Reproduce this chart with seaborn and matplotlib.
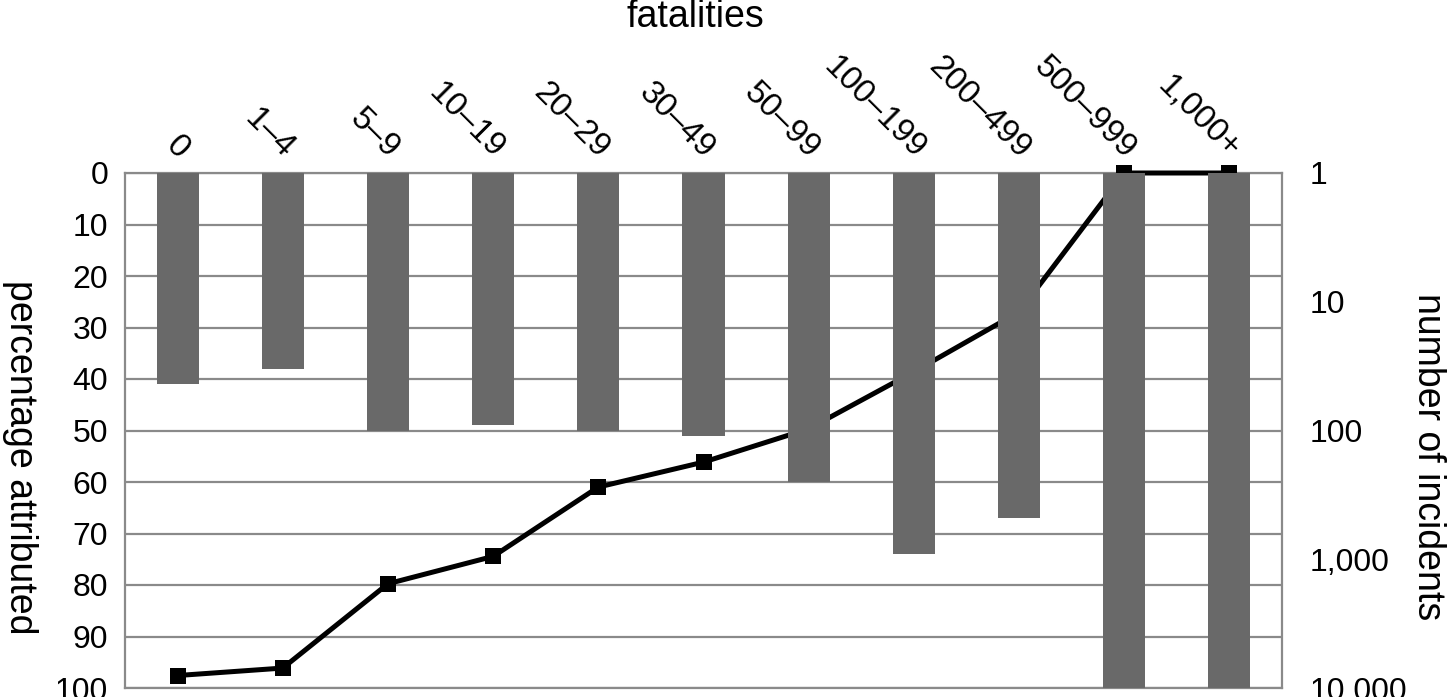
import matplotlib
matplotlib.use("Agg")
import matplotlib.pyplot as plt
import seaborn as sns
import numpy as np
from matplotlib.transforms import ScaledTranslation
from matplotlib.ticker import FixedLocator, NullLocator

# ---- data ----
categories = ["0", "1–4", "5–9", "10–19", "20–29", "30–49", "50–99",
              "100–199", "200–499", "500–999", "1,000+"]
pct_attributed = [41, 38, 50, 49, 50, 51, 60, 74, 67, 100, 100]
num_incidents = [8000, 7000, 1550, 950, 275, 176, 97, 35, 12, 1, 1]
pct_ticks = [0, 10, 20, 30, 40, 50, 60, 70, 80, 90, 100]
inc_ticks = [1, 10, 100, 1000, 10000]
inc_tick_labels = ["1", "10", "100", "1,000", "10,000"]

# ---- style ----
sns.set_theme(style="white")
plt.rcParams["font.family"] = ["Liberation Sans", "DejaVu Sans"]
BAR = "#696969"
GRID = "#8a8a8a"
FS = 23        # tick labels
FS_CAT = 24    # category labels
FS_TITLE = 27  # axis titles

W, H = 1447, 697
fig = plt.figure(figsize=(W / 100, H / 100), dpi=100)
L, R, T, B = 125, 1282, 173, 688
ax = fig.add_axes([L / W, 1 - B / H, (R - L) / W, (B - T) / H])
ax_line = ax.twinx()
ax_bar = ax.twinx()
ax.set_zorder(1)
ax_line.set_zorder(2)
ax_bar.set_zorder(3)
ax_line.patch.set_visible(False)
ax_bar.patch.set_visible(False)

n = len(categories)

# line (number of incidents, log scale, right axis)
sns.lineplot(x=np.arange(n), y=num_incidents, ax=ax_line, color="black",
             linewidth=3.6, marker="s", markersize=11.5, markeredgewidth=0,
             clip_on=False)
ax_line.set_yscale("log")
ax_line.set_ylim(10000, 1)
ax_line.yaxis.set_major_locator(FixedLocator(inc_ticks))
ax_line.yaxis.set_minor_locator(NullLocator())
ax_line.set_yticklabels(inc_tick_labels)
ax_line.tick_params(axis="y", which="both", length=0, pad=20, labelsize=FS,
                    labelcolor="black")
ax_line.set_ylabel("number of incidents", rotation=270, fontsize=FS_TITLE,
                   va="center", ha="center", color="black")
ax_line.yaxis.set_label_coords((1428 - L) / (R - L), (B - 457) / (B - T))
ax_line.set_xlabel("")

# bars (percentage attributed)
sns.barplot(x=categories, y=pct_attributed, ax=ax_bar, color=BAR,
            width=0.4, saturation=1, linewidth=0, edgecolor=BAR)
ax_bar.set_ylim(100, 0)
ax_bar.set_yticks([])
ax_bar.set_ylabel("")
ax_bar.set_xlabel("")

for a in (ax_line, ax_bar):
    for s in a.spines.values():
        s.set_visible(False)

# base axes: grid, left ticks, top category labels
ax.set_ylim(100, 0)
ax.set_xlim(-0.5, n - 0.5)
ax.set_yticks(pct_ticks)
ax.set_yticklabels([str(v) for v in pct_ticks])
ax.grid(axis="y", color=GRID, linewidth=1.6)
ax.grid(axis="x", visible=False)
ax.set_axisbelow(True)
for s in ax.spines.values():
    s.set_visible(True)
    s.set_color(GRID)
    s.set_linewidth(1.6)
ax.tick_params(axis="y", length=0, pad=12, labelsize=FS, labelcolor="black")
ax.xaxis.tick_top()
ax.set_xticks(range(n))
ax.set_xticklabels(categories, rotation=-45, ha="right", va="bottom")
ax.tick_params(axis="x", length=0, pad=6, labelsize=FS_CAT, labelcolor="black",
               top=True, bottom=False, labeltop=True, labelbottom=False)
offset = ScaledTranslation(17 / 100, 0, fig.dpi_scale_trans)
for lab in ax.get_xticklabels():
    lab.set_transform(lab.get_transform() + offset)

ax.set_ylabel("percentage attributed", rotation=270, fontsize=FS_TITLE,
              va="center", ha="center", color="black")
ax.yaxis.set_label_coords((20 - L) / (R - L), (B - 457) / (B - T))

fig.text(695 / W, 1 - 27 / H, "fatalities", ha="center", va="baseline",
         fontsize=FS_TITLE, color="black")

fig.savefig("out.png", dpi=100)
